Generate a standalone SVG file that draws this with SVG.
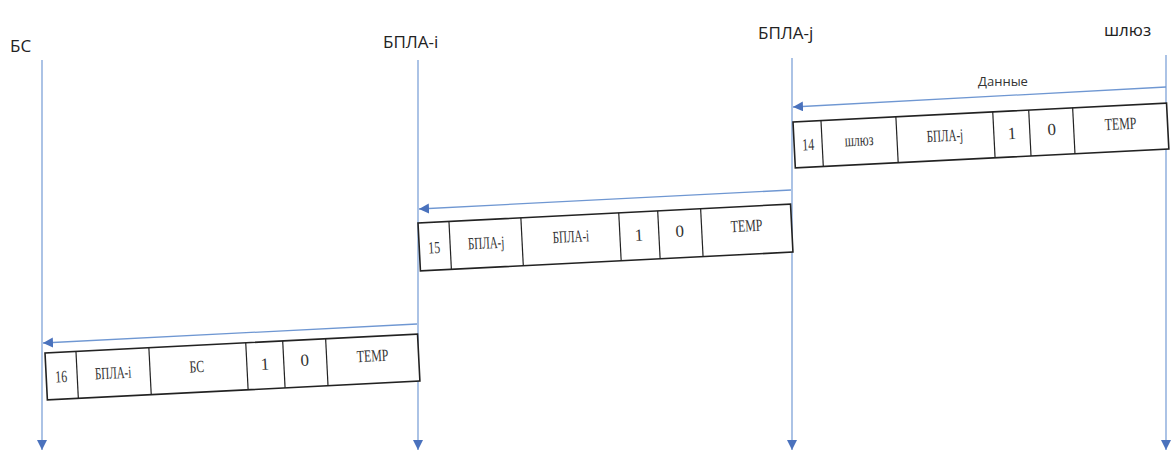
<svg xmlns="http://www.w3.org/2000/svg" width="1174" height="453" viewBox="0 0 1174 453">
<style>
.life{stroke:#7fa3d8;stroke-width:1.3;fill:none}
.msg{stroke:#6f97d2;stroke-width:1.3;fill:none}
.lbl{font-family:"Open Sans","Noto Sans",sans-serif;font-size:17px;fill:#222}
.dlbl{font-family:"Open Sans","Noto Sans",sans-serif;font-size:13px;fill:#333}
.cell{fill:#fff;stroke:#222;stroke-width:1.6}
.div{stroke:#222;stroke-width:1.2}
.t{font-family:"Liberation Serif","Times New Roman",serif;font-size:17px;fill:#333;text-anchor:middle}
</style>
<defs>
<marker id="ah" viewBox="0 0 10 10" refX="10" refY="5" markerWidth="10" markerHeight="10" markerUnits="userSpaceOnUse" orient="auto">
<path d="M0,0 L10,5 L0,10 Z" fill="#4a72bd"/>
</marker>
</defs>
<g id="lifelines">
<line class="life" x1="42" y1="60" x2="42" y2="450" marker-end="url(#ah)"/>
<line class="life" x1="418" y1="60" x2="418" y2="450" marker-end="url(#ah)"/>
<line class="life" x1="792" y1="58" x2="792" y2="450" marker-end="url(#ah)"/>
<line class="life" x1="1166" y1="55" x2="1166" y2="450" marker-end="url(#ah)"/>
</g>
<g id="node-bs"><text class="lbl" x="10" y="52">БС</text></g>
<g id="node-uav-i"><text class="lbl" x="383" y="48">БПЛА-i</text></g>
<g id="node-uav-j"><text class="lbl" x="758" y="39">БПЛА-j</text></g>
<g id="node-gw"><text class="lbl" x="1104" y="36">шлюз</text></g>
<g id="connectors">
<line class="msg" x1="1166" y1="87" x2="793" y2="107" marker-end="url(#ah)"/>
<text class="dlbl" x="1003" y="86" text-anchor="middle">Данные</text>
<line class="msg" x1="791" y1="190" x2="419" y2="209" marker-end="url(#ah)"/>
<line class="msg" x1="417" y1="324" x2="43" y2="343" marker-end="url(#ah)"/>
</g>
<g id="packet-14" transform="translate(793,122) rotate(-2.9)">
<rect class="cell" x="0" y="0" width="374" height="46"/>
<line class="div" x1="28" y1="0" x2="28" y2="46"/>
<line class="div" x1="103" y1="0" x2="103" y2="46"/>
<line class="div" x1="200" y1="0" x2="200" y2="46"/>
<line class="div" x1="236" y1="0" x2="236" y2="46"/>
<line class="div" x1="280" y1="0" x2="280" y2="46"/>
<text class="t" x="14" y="29" transform="translate(14 0) scale(0.7 1) translate(-14 0)">14</text>
<text class="t" x="65" y="27" font-size="13" transform="translate(65 0) scale(0.7 1) translate(-65 0)">шлюз</text>
<text class="t" x="151" y="27" transform="translate(151 0) scale(0.65 1) translate(-151 0)">БПЛА-j</text>
<text class="t" x="218" y="28">1</text>
<text class="t" x="258" y="26">0</text>
<text class="t" x="327" y="24" transform="translate(327 0) scale(0.7 1) translate(-327 0)">TEMP</text>
</g>
<g id="packet-15" transform="translate(418,223) rotate(-2.9)">
<rect class="cell" x="0" y="0" width="373" height="48"/>
<line class="div" x1="31" y1="0" x2="31" y2="48"/>
<line class="div" x1="103" y1="0" x2="103" y2="48"/>
<line class="div" x1="201" y1="0" x2="201" y2="48"/>
<line class="div" x1="240" y1="0" x2="240" y2="48"/>
<line class="div" x1="283" y1="0" x2="283" y2="48"/>
<text class="t" x="15" y="31" transform="translate(15 0) scale(0.7 1) translate(-15 0)">15</text>
<text class="t" x="67" y="29" transform="translate(67 0) scale(0.65 1) translate(-67 0)">БПЛА-j</text>
<text class="t" x="152" y="27" transform="translate(152 0) scale(0.65 1) translate(-152 0)">БПЛА-i</text>
<text class="t" x="220" y="29">1</text>
<text class="t" x="261" y="27">0</text>
<text class="t" x="328" y="25" transform="translate(328 0) scale(0.7 1) translate(-328 0)">TEMP</text>
</g>
<g id="packet-16" transform="translate(45,353) rotate(-2.9)">
<rect class="cell" x="0" y="0" width="373" height="47"/>
<line class="div" x1="31" y1="0" x2="31" y2="47"/>
<line class="div" x1="104" y1="0" x2="104" y2="47"/>
<line class="div" x1="201" y1="0" x2="201" y2="47"/>
<line class="div" x1="238" y1="0" x2="238" y2="47"/>
<line class="div" x1="281" y1="0" x2="281" y2="47"/>
<text class="t" x="15" y="30" transform="translate(15 0) scale(0.7 1) translate(-15 0)">16</text>
<text class="t" x="67" y="29" transform="translate(67 0) scale(0.65 1) translate(-67 0)">БПЛА-i</text>
<text class="t" x="151" y="27" transform="translate(151 0) scale(0.7 1) translate(-151 0)">БС</text>
<text class="t" x="219" y="28">1</text>
<text class="t" x="259" y="26">0</text>
<text class="t" x="327" y="25" transform="translate(327 0) scale(0.7 1) translate(-327 0)">TEMP</text>
</g>
</svg>
